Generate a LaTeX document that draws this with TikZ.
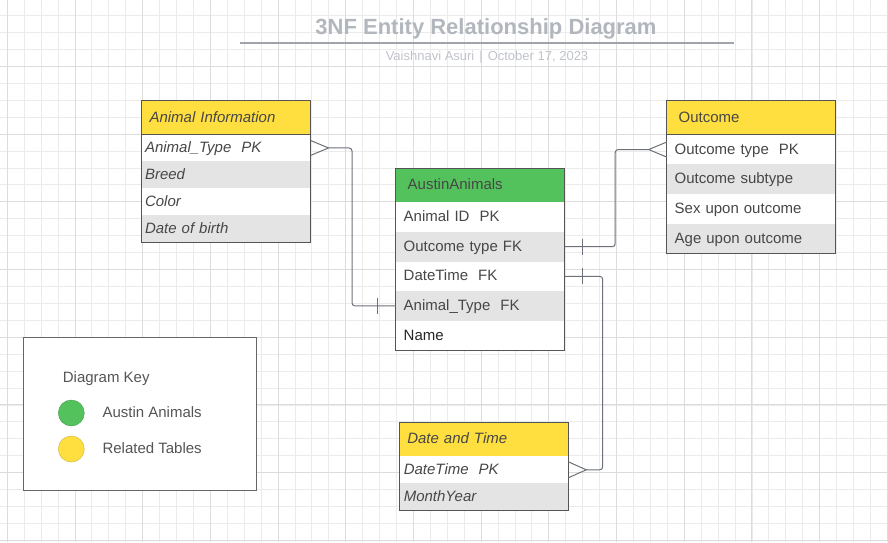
\documentclass[tikz,border=0pt]{standalone}
\usepackage{fontspec}
\setmainfont{Liberation Sans}
\usetikzlibrary{positioning}

\definecolor{hdryellow}{HTML}{FFDF3F}
\definecolor{hdrgreen}{HTML}{53C25C}
\definecolor{rowgray}{HTML}{E4E4E4}
\definecolor{tblline}{HTML}{555555}
\definecolor{connline}{HTML}{6C7078}
\definecolor{txtgray}{HTML}{474747}
\definecolor{keygray}{HTML}{555555}
\definecolor{gridminor}{HTML}{EBEBEB}
\definecolor{gridmajor}{HTML}{DCDCDC}
\definecolor{titlegray}{HTML}{B2B6BD}
\definecolor{subgray}{HTML}{BFC3C9}

\tikzset{
  hdr/.style={fill=#1, draw=tblline, line width=1.1pt, outer sep=0pt, anchor=north west, minimum height=34pt, align=left, text height=12pt, text depth=3pt, text=txtgray, font=\fontsize{15pt}{18pt}\selectfont},
  row/.style={fill=#1, outer sep=0pt, align=left, text height=12pt, text depth=3pt, text=txtgray, font=\fontsize{15pt}{18pt}\selectfont},
  ihdr/.style={hdr=#1, inner xsep=8pt, text width=153pt, font=\fontsize{15pt}{18pt}\selectfont\itshape},
  irow/.style={row=#1, inner xsep=3.5pt, text width=162pt, font=\fontsize{15pt}{18pt}\selectfont\itshape},
  nhdr/.style={hdr=#1, inner xsep=12pt, text width=145pt},
  nrow/.style={row=#1, inner xsep=8pt, text width=153pt},
  tblbox/.style={draw=tblline, line width=1.1pt},
  conn/.style={draw=connline, line width=1pt, rounded corners=3pt},
  keytext/.style={anchor=west, inner xsep=0pt, text height=12pt, text depth=3pt, text=keygray, font=\fontsize{15pt}{18pt}\selectfont},
}

\begin{document}
\begin{tikzpicture}[x=1pt,y=-1pt]
\useasboundingbox (0,0) rectangle (888,542);
\clip (0,0) rectangle (888,542);

% Grid
\foreach \i in {0,...,52} {
  \pgfmathsetmacro\gx{round(6.8+16.925*\i)+0.5}
  \draw[gridminor, line width=1pt] (\gx,0) -- (\gx,542);
}
\foreach \j in {1,...,32} {
  \pgfmathsetmacro\gy{round(-1.7+16.925*\j)+0.5}
  \draw[gridminor, line width=1pt] (0,\gy) -- (888,\gy);
}
\foreach \i in {0,...,13} {
  \pgfmathsetmacro\gx{round(6.8+67.7*\i)+0.5}
  \draw[gridmajor, line width=1pt] (\gx,0) -- (\gx,542);
}
\foreach \j in {1,...,8} {
  \pgfmathsetmacro\gy{round(-1.7+67.7*\j)+0.5}
  \draw[gridmajor, line width=1pt] (0,\gy) -- (888,\gy);
}

% Title
\node[font=\fontsize{22pt}{26pt}\selectfont\bfseries, text=titlegray] (title) at (486,29) {3NF Entity Relationship Diagram};
\draw[draw=titlegray!90!black, line width=1.5pt] (240,43) -- (734,43);
\node[font=\fontsize{13pt}{16pt}\selectfont, text=subgray] (subtitle) at (487,57.5) {Vaishnavi Asuri\hspace{5pt}|\hspace{5pt}October 17, 2023};

% Animal Information
\begin{scope}[every node/.append style={minimum height=26.9pt}]
\node[ihdr=hdryellow, minimum height=34pt] (aiHead) at (141.5,100.5) {Animal Information};
\node[irow=white, below=0pt of aiHead] (aiType) {Animal\_Type\ \ PK};
\node[irow=rowgray, below=0pt of aiType] (aiBreed) {Breed};
\node[irow=white, below=0pt of aiBreed] (aiColor) {Color};
\node[irow=rowgray, below=0pt of aiColor] (aiBirth) {Date of birth};
\draw[tblbox] (aiHead.north west) rectangle (aiBirth.south east);
\end{scope}

% AustinAnimals
\begin{scope}[every node/.append style={minimum height=29.6pt}]
\node[nhdr=hdrgreen, minimum height=34pt] (aaHead) at (395.7,168.3) {AustinAnimals};
\node[nrow=white, below=0pt of aaHead] (aaId) {Animal ID\ \ PK};
\node[nrow=rowgray, below=0pt of aaId] (aaOut) {Outcome type FK};
\node[nrow=white, below=0pt of aaOut] (aaTime) {DateTime\ \ FK};
\node[nrow=rowgray, below=0pt of aaTime] (aaType) {Animal\_Type\ \ FK};
\node[nrow=white, below=0pt of aaType, text=black!85] (aaName) {Name};
\draw[tblbox] (aaHead.north west) rectangle (aaName.south east);
\end{scope}

% Outcome
\begin{scope}[every node/.append style={minimum height=29.7pt}]
\node[nhdr=hdryellow, minimum height=34pt] (ocHead) at (666.7,100.7) {Outcome};
\node[nrow=white, below=0pt of ocHead] (ocType) {Outcome type\ \ PK};
\node[nrow=rowgray, below=0pt of ocType] (ocSub) {Outcome subtype};
\node[nrow=white, below=0pt of ocSub] (ocSex) {Sex upon outcome};
\node[nrow=rowgray, below=0pt of ocSex] (ocAge) {Age upon outcome};
\draw[tblbox] (ocHead.north west) rectangle (ocAge.south east);
\end{scope}

% Date and Time
\begin{scope}[every node/.append style={minimum height=27pt}]
\node[ihdr=hdryellow, minimum height=34pt] (dtHead) at (399.3,422.3) {Date and Time};
\node[irow=white, below=0pt of dtHead, inner xsep=4.5pt, text width=160pt] (dtTime) {DateTime\ \ PK};
\node[irow=rowgray, below=0pt of dtTime, inner xsep=4.5pt, text width=160pt] (dtMonth) {MonthYear};
\draw[tblbox] (dtHead.north west) rectangle (dtMonth.south east);
\end{scope}

% Relationships
\draw[conn, sharp corners] ([yshift=7.5pt]aiType.east) -- ++(18,7.5) -- ++(-18,7.5);
\draw[conn] ([xshift=18pt]aiType.east) -- ++(23.5,0) |- (aaType.west);
\draw[conn] ([xshift=-18pt]aaType.west) ++(0,-8) -- ++(0,16);

\draw[conn, sharp corners] ([yshift=7.5pt]ocType.west) -- ++(-18,7.5) -- ++(18,7.5);
\draw[conn] (aaOut.east) -- ++(50.5,0) |- ([xshift=-18pt]ocType.west);
\draw[conn] ([xshift=18pt]aaOut.east) ++(0,-8) -- ++(0,16);

\draw[conn, sharp corners] ([yshift=8pt]dtTime.east) -- ++(18,8) -- ++(-18,8);
\draw[conn] (aaTime.east) -- ++(38,0) |- ([xshift=18pt]dtTime.east);
\draw[conn] ([xshift=18pt]aaTime.east) ++(0,-8) -- ++(0,16);

% Diagram key
\node[draw=black!60, line width=1.1pt, fill=white, anchor=north west, minimum width=233pt, minimum height=152.7pt] (keyBox) at (22.7,337.3) {};
\node[keytext] (keyTitle) at (62.7,377.7) {Diagram Key};
\node[circle, fill=hdrgreen, draw=hdrgreen!80!black, line width=0.4pt, minimum size=26pt] (keyGreen) at (71.3,413) {};
\node[circle, fill=hdryellow, draw=hdryellow!80!black, line width=0.4pt, minimum size=26pt] (keyYellow) at (71.3,449) {};
\node[keytext] (keyAA) at (102.3,413) {Austin Animals};
\node[keytext] (keyRT) at (102.3,449) {Related Tables};
\end{tikzpicture}
\end{document}
